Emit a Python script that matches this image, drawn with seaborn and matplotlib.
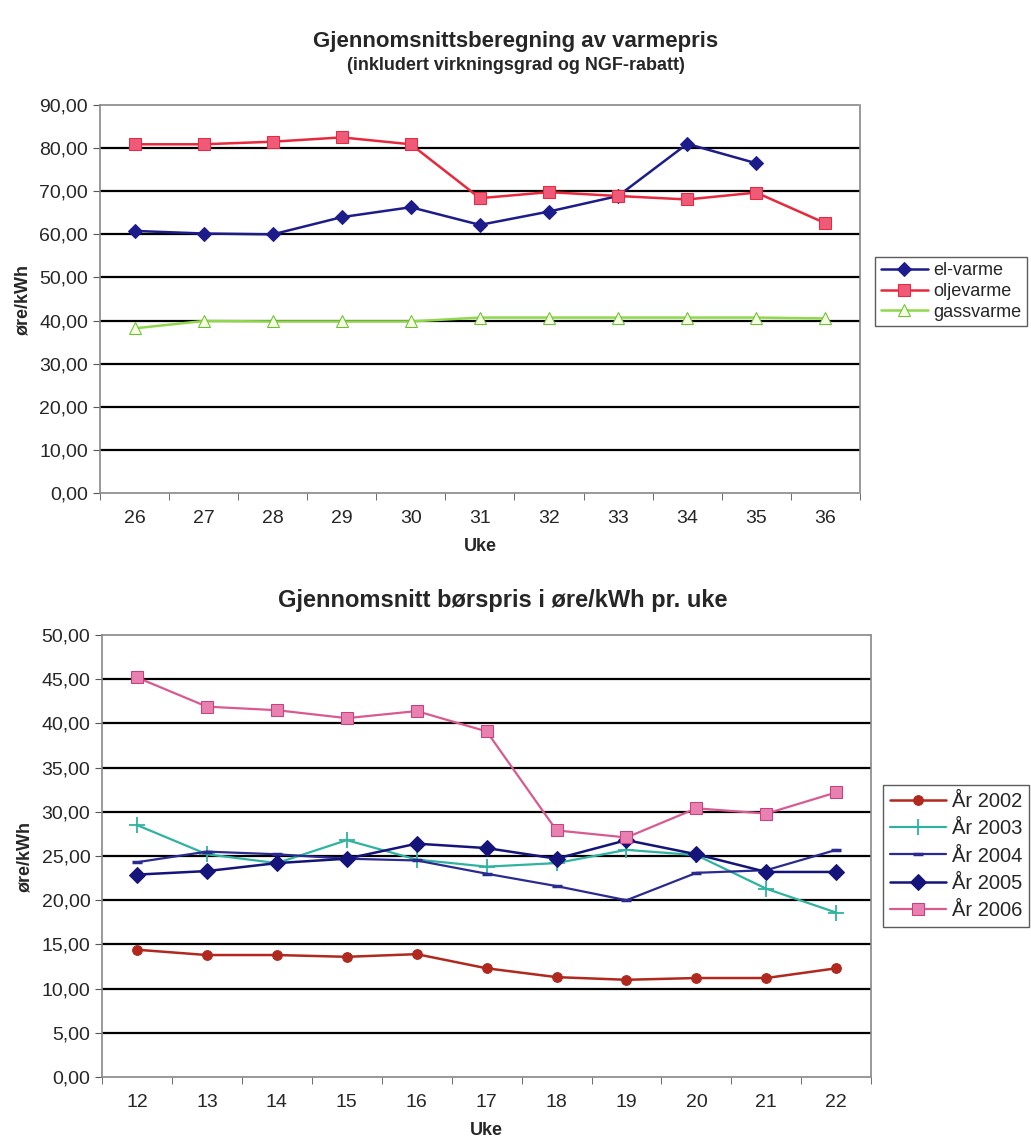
import numpy as np
import pandas as pd
import seaborn as sns
import matplotlib
matplotlib.use("Agg")
import matplotlib.pyplot as plt
from matplotlib.ticker import FuncFormatter, MultipleLocator

# Top chart: heating price per week
weeks_top = [26, 27, 28, 29, 30, 31, 32, 33, 34, 35, 36]
el_varme = [60.8, 60.2, 60.0, 64.0, 66.3, 62.2, 65.3, 68.9, 81.0, 76.5, np.nan]
oljevarme = [80.9, 80.9, 81.5, 82.5, 80.9, 68.4, 69.8, 68.9, 68.1, 69.7, 62.6]
gassvarme = [38.2, 39.9, 39.8, 39.8, 39.8, 40.7, 40.7, 40.7, 40.7, 40.7, 40.5]

# Bottom chart: average spot price per week
weeks_bottom = [12, 13, 14, 15, 16, 17, 18, 19, 20, 21, 22]
aar_2002 = [14.4, 13.8, 13.8, 13.6, 13.9, 12.3, 11.3, 11.0, 11.2, 11.2, 12.3]
aar_2003 = [28.5, 25.2, 24.2, 26.8, 24.6, 23.8, 24.2, 25.7, 25.1, 21.3, 18.6]
aar_2004 = [24.3, 25.5, 25.2, 24.7, 24.5, 23.0, 21.6, 20.0, 23.1, 23.4, 25.7]
aar_2005 = [22.9, 23.3, 24.2, 24.7, 26.4, 25.9, 24.7, 26.8, 25.2, 23.2, 23.2]
aar_2006 = [45.2, 41.9, 41.5, 40.6, 41.4, 39.1, 27.9, 27.1, 30.4, 29.8, 32.2]

sns.set_style("white")
plt.rcParams["font.family"] = ["Liberation Sans", "DejaVu Sans"]

fig = plt.figure(figsize=(10.31, 11.42), dpi=100)
ax1 = fig.add_axes([0.097, 0.5683, 0.737, 0.3397])
ax2 = fig.add_axes([0.099, 0.0569, 0.746, 0.387])

comma = FuncFormatter(lambda v, p: f"{v:.2f}".replace(".", ","))


def style_axis(ax, weeks, ymax, ystep):
    ax.set_xlim(weeks[0] - 0.5, weeks[-1] + 0.5)
    ax.set_ylim(0, ymax)
    ax.yaxis.set_major_locator(MultipleLocator(ystep))
    ax.yaxis.set_major_formatter(comma)
    ax.set_xticks(weeks)
    ax.set_xticklabels([str(w) for w in weeks])
    ax.set_xticks([w - 0.5 for w in weeks] + [weeks[-1] + 0.5], minor=True)
    ax.tick_params(axis="x", which="major", length=0, pad=12, labelsize=14)
    ax.tick_params(axis="x", which="minor", length=5, direction="out",
                   bottom=True, color="#555555")
    ax.tick_params(axis="y", length=5, direction="out", left=True,
                   labelsize=14, color="#555555")
    for yv in np.arange(ystep, ymax, ystep):
        ax.axhline(yv, color="black", lw=1.6, zorder=1)
    for s in ax.spines.values():
        s.set_color("#888888")
        s.set_linewidth(1.2)
        s.set_linestyle((0, (2, 1)))
    ax.set_xlabel("Uke", fontweight="bold", fontsize=13, labelpad=8)
    ax.set_ylabel("øre/kWh", fontweight="bold", fontsize=13, labelpad=6)


# top chart
sns.lineplot(x=weeks_top, y=el_varme, ax=ax1, color="#1c1c8a", marker="D",
             markersize=7, markeredgecolor="#1c1c8a", lw=1.8, label="el-varme",
             zorder=3)
sns.lineplot(x=weeks_top, y=oljevarme, ax=ax1, color="#e8283c", marker="s",
             markersize=9, markerfacecolor="#ee5a78", markeredgecolor="#e8283c",
             lw=1.8, label="oljevarme", zorder=3)
sns.lineplot(x=weeks_top, y=gassvarme, ax=ax1, color="#8fd84a", marker="^",
             markersize=8, markerfacecolor="#f4ffe0", markeredgecolor="#6cc030",
             lw=1.8, label="gassvarme", zorder=3)
style_axis(ax1, weeks_top, 90, 10)
h, l = ax1.get_legend_handles_labels()
ax1.get_legend().remove()
fig.legend(h, l, loc="upper left", bbox_to_anchor=(0.849, 0.775),
           fontsize=13, frameon=True, fancybox=False, edgecolor="#333333",
           handlelength=2.6, borderpad=0.3, labelspacing=0.2,
           handletextpad=0.3, borderaxespad=0)

# bottom chart
sns.lineplot(x=weeks_bottom, y=aar_2002, ax=ax2, color="#b0281e", marker="o",
             markersize=7, markeredgecolor="#b0281e", lw=1.8, label="År 2002",
             zorder=3)
sns.lineplot(x=weeks_bottom, y=aar_2003, ax=ax2, color="#2fb3a0", marker="+",
             markersize=11, markeredgewidth=1.3, markeredgecolor="#2fb3a0",
             lw=1.6, label="År 2003", zorder=3)
sns.lineplot(x=weeks_bottom, y=aar_2004, ax=ax2, color="#2a2a90", marker="_",
             markersize=7, markeredgewidth=2.5, markeredgecolor="#2a2a90",
             lw=1.6, label="År 2004", zorder=3)
sns.lineplot(x=weeks_bottom, y=aar_2005, ax=ax2, color="#14147a", marker="D",
             markersize=8, markeredgecolor="#14147a", lw=1.8, label="År 2005",
             zorder=3)
sns.lineplot(x=weeks_bottom, y=aar_2006, ax=ax2, color="#d85a90", marker="s",
             markersize=9, markerfacecolor="#e880b0", markeredgecolor="#c84080",
             lw=1.6, label="År 2006", zorder=3)
style_axis(ax2, weeks_bottom, 50, 5)
h, l = ax2.get_legend_handles_labels()
ax2.get_legend().remove()
fig.legend(h, l, loc="upper left", bbox_to_anchor=(0.856, 0.313),
           fontsize=14.5, frameon=True, fancybox=False, edgecolor="#333333",
           handlelength=2.8, borderpad=0.35, labelspacing=0.42,
           handletextpad=0.3, borderaxespad=0)

fig.text(0.5, 1 - 42 / 1142, "Gjennomsnittsberegning av varmepris",
         ha="center", va="center", fontsize=16, fontweight="bold")
fig.text(0.5, 1 - 65 / 1142, "(inkludert virkningsgrad og NGF-rabatt)",
         ha="center", va="center", fontsize=13, fontweight="bold")
fig.text(0.488, 1 - 600 / 1142, "Gjennomsnitt børspris i øre/kWh pr. uke",
         ha="center", va="center", fontsize=17, fontweight="bold")

fig.savefig("out.png", dpi=100, facecolor="white")
